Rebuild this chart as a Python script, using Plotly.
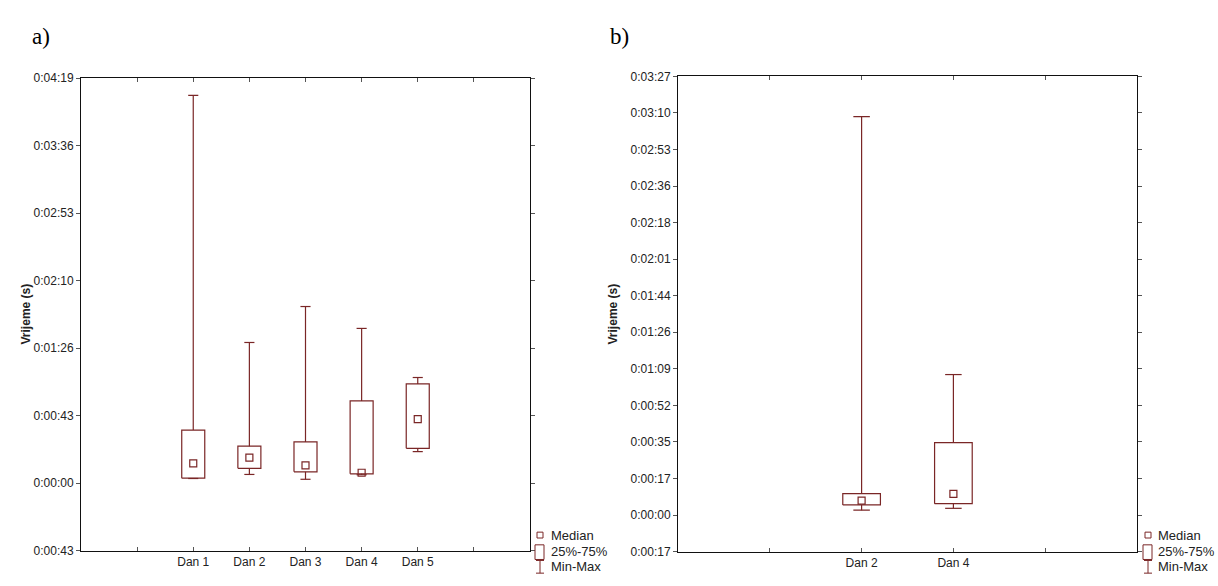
import plotly.graph_objects as go

# ---------------- data ----------------
# Panel a)
cats_a = ["Dan 1", "Dan 2", "Dan 3", "Dan 4", "Dan 5"]
min_a = [3.0, 5.6, 2.5, 5.4, 20.2]
q1_a = [3.2, 9.5, 7.3, 6.0, 22.3]
med_a = [12.7, 16.4, 11.4, 6.7, 41.0]
q3_a = [34.0, 23.7, 26.4, 52.6, 63.5]
max_a = [248.0, 90.0, 113.0, 99.0, 67.6]
yticks_a = [-43.17, 0, 43.17, 86.33, 129.5, 172.67, 215.83, 259.0]
ylabels_a = ["0:00:43", "0:00:00", "0:00:43", "0:01:26", "0:02:10", "0:02:53", "0:03:36", "0:04:19"]

# Panel b)
cats_b = ["Dan 2", "Dan 4"]
min_b = [2.3, 3.2]
q1_b = [4.8, 5.4]
med_b = [6.8, 10.0]
q3_b = [10.1, 34.2]
max_b = [188.0, 66.3]
yticks_b = [-17.25, 0, 17.25, 34.5, 51.75, 69.0, 86.25, 103.5, 120.75, 138.0, 155.25, 172.5, 189.75, 207.0]
ylabels_b = ["0:00:17", "0:00:00", "0:00:17", "0:00:35", "0:00:52", "0:01:09", "0:01:26",
             "0:01:44", "0:02:01", "0:02:18", "0:02:36", "0:02:53", "0:03:10", "0:03:27"]

legend_labels = ["Median", "25%-75%", "Min-Max"]

# ---------------- style ----------------
COL = "#7a2626"
W, H = 1218, 586
TICKFONT = dict(family="Liberation Sans, Arial", size=12, color="#222222")
BOX_HALF = 0.205
CAP_HALF = 0.09

fig = go.Figure()


def add_panel(cats, mins, q1s, meds, q3s, maxs, xa, ya):
    xs = [i + 2 for i in range(len(cats))]
    wx, wy = [], []
    for x, lo, a, b, hi in zip(xs, mins, q1s, q3s, maxs):
        wx += [x, x, None, x, x, None]
        wy += [b, hi, None, lo, a, None]
        wx += [x - CAP_HALF, x + CAP_HALF, None, x - CAP_HALF, x + CAP_HALF, None]
        wy += [hi, hi, None, lo, lo, None]
    fig.add_trace(go.Scatter(x=wx, y=wy, mode="lines", line=dict(color=COL, width=1.2),
                             xaxis=xa, yaxis=ya, showlegend=False, hoverinfo="skip"))
    bx, by = [], []
    for x, a, b in zip(xs, q1s, q3s):
        bx += [x - BOX_HALF, x + BOX_HALF, x + BOX_HALF, x - BOX_HALF, x - BOX_HALF, None]
        by += [a, a, b, b, a, None]
    fig.add_trace(go.Scatter(x=bx, y=by, mode="lines", line=dict(color=COL, width=1.2),
                             xaxis=xa, yaxis=ya, showlegend=False, hoverinfo="skip"))
    fig.add_trace(go.Scatter(x=xs, y=meds, mode="markers",
                             marker=dict(symbol="square-open", size=7, color=COL, line=dict(width=1.2)),
                             xaxis=xa, yaxis=ya, showlegend=False, hoverinfo="skip"))
    return xs


add_panel(cats_a, min_a, q1_a, med_a, q3_a, max_a, "x", "y")
add_panel(cats_b, min_b, q1_b, med_b, q3_b, max_b, "x2", "y2")


def px(x):
    return x / W


def py(y):
    return 1 - y / H


axis_common = dict(showline=True, linecolor="#111111", linewidth=1, mirror="ticks", showgrid=False,
                   zeroline=False, tickfont=TICKFONT, tickcolor="#555555", ticklen=4)

na, nb = len(cats_a), len(cats_b)
fig.update_layout(
    xaxis=dict(domain=[px(81), px(530)], range=[0, na + 3], tickvals=list(range(1, na + 3)),
               ticktext=[""] + cats_a + [""], ticks="inside", anchor="y", **axis_common),
    yaxis=dict(domain=[py(557), py(73)], range=[yticks_a[0], yticks_a[-1]], tickvals=yticks_a,
               ticktext=ylabels_a, ticks="outside", anchor="x", **axis_common),
    xaxis2=dict(domain=[px(678), px(1137)], range=[0, nb + 3], tickvals=list(range(1, nb + 3)),
                ticktext=[""] + cats_b + [""], ticks="inside", anchor="y2", **axis_common),
    yaxis2=dict(domain=[py(558), py(71)], range=[yticks_b[0], yticks_b[-1]], tickvals=yticks_b,
                ticktext=ylabels_b, ticks="outside", anchor="x2", **axis_common),
)

annotations = [
    dict(text="a)", x=px(30), y=py(30), xref="paper", yref="paper", xanchor="left", yanchor="middle",
         showarrow=False, font=dict(family="Liberation Serif, Times New Roman", size=23, color="#000")),
    dict(text="b)", x=px(608), y=py(30), xref="paper", yref="paper", xanchor="left", yanchor="middle",
         showarrow=False, font=dict(family="Liberation Serif, Times New Roman", size=23, color="#000")),
    dict(text="<b>Vrijeme (s)</b>", x=px(17), y=py(315), xref="paper", yref="paper", textangle=-90,
         showarrow=False, font=dict(family="Liberation Sans, Arial", size=12, color="#222")),
    dict(text="<b>Vrijeme (s)</b>", x=px(613), y=py(315), xref="paper", yref="paper", textangle=-90,
         showarrow=False, font=dict(family="Liberation Sans, Arial", size=12, color="#222")),
]

shapes = []
LEGFONT = dict(family="Liberation Sans, Arial", size=13, color="#222")
for gx, tx in [(540, 549), (1148, 1156)]:
    rows = [541, 558, 573]
    for lab, ry in zip(legend_labels, rows):
        annotations.append(dict(text=lab, x=px(tx), y=py(ry), xref="paper", yref="paper",
                                xanchor="left", yanchor="middle", showarrow=False, font=LEGFONT))
    shapes.append(dict(type="rect", xref="paper", yref="paper", x0=px(gx - 3), x1=px(gx + 3),
                       y0=py(rows[0] + 3), y1=py(rows[0] - 3), line=dict(color=COL, width=1)))
    shapes.append(dict(type="rect", xref="paper", yref="paper", x0=px(gx - 5), x1=px(gx + 4),
                       y0=py(rows[1] + 8), y1=py(rows[1] - 7), line=dict(color=COL, width=1)))
    shapes.append(dict(type="line", xref="paper", yref="paper", x0=px(gx), x1=px(gx),
                       y0=py(rows[2] - 6), y1=py(rows[2] + 7), line=dict(color=COL, width=1)))
    shapes.append(dict(type="line", xref="paper", yref="paper", x0=px(gx - 4), x1=px(gx + 4),
                       y0=py(rows[2] - 6), y1=py(rows[2] - 6), line=dict(color=COL, width=1)))
    shapes.append(dict(type="line", xref="paper", yref="paper", x0=px(gx - 4), x1=px(gx + 4),
                       y0=py(rows[2] + 7), y1=py(rows[2] + 7), line=dict(color=COL, width=1)))

fig.update_layout(
    width=W, height=H, margin=dict(l=0, r=0, t=0, b=0), autosize=False,
    paper_bgcolor="white", plot_bgcolor="white", showlegend=False,
    annotations=annotations, shapes=shapes,
)

fig.write_html("out.html", config={"displayModeBar": False},
               post_script="document.body.style.margin='0px';")
